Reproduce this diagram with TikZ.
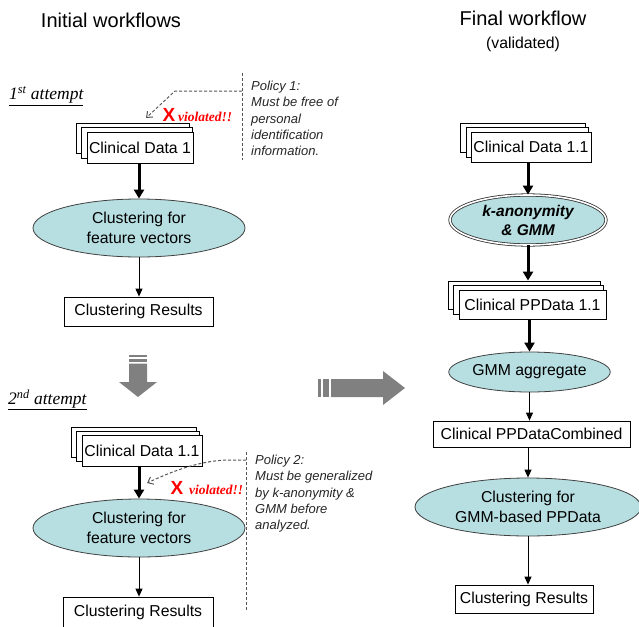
\documentclass[tikz,border=0pt]{standalone}
\usepackage{fontspec}
\setmainfont{Liberation Sans}
\newfontfamily\tnr{Liberation Serif}
\usetikzlibrary{shapes.geometric,arrows.meta}
\definecolor{tealfill}{RGB}{183,222,225}
\definecolor{arrgray}{RGB}{128,128,128}
\definecolor{dashgray}{RGB}{85,85,85}
\begin{document}
\begin{tikzpicture}[x=1pt,y=-1pt,
  box/.style={draw=black, line width=0.8pt, fill=white, inner sep=0pt, font=\fontsize{15.8}{19}\selectfont},
  backbox/.style={draw=black, line width=0.8pt, fill=white, inner sep=0pt},
  proc/.style={ellipse, draw=black!75, line width=0.8pt, fill=tealfill, inner sep=0pt, align=center, font=\fontsize{15.8}{19.5}\selectfont},
  thickarrow/.style={line width=3pt, -{Triangle[length=9pt,width=10pt]}},
  thinarrow/.style={line width=0.9pt, -{Triangle[length=8pt,width=7pt]}},
  policyline/.style={draw=dashgray, line width=1pt, dash pattern=on 3pt off 2pt},
  policyarrow/.style={draw=dashgray, line width=1pt, dash pattern=on 3pt off 2pt, -{Straight Barb[length=5pt,width=8pt]}},
  policytext/.style={anchor=north west, align=left, inner sep=0pt, text=black!85, font=\fontsize{13}{16.3}\selectfont\itshape},
  attempt/.style={anchor=west, inner sep=0pt, font=\tnr\itshape\fontsize{17.5}{20}\selectfont},
  xmark/.style={inner sep=0pt, text=red, font=\bfseries\fontsize{19}{20}\selectfont},
  viol/.style={anchor=west, inner sep=0pt, text=red, font=\tnr\bfseries\itshape\fontsize{13.5}{15}\selectfont},
  title/.style={inner sep=0pt, font=\fontsize{20}{24}\selectfont},
  arrowshape/.style={fill=arrgray}
]
\useasboundingbox (0,0) rectangle (639,626);

% titles
\node[title] (tl) at (111,20) {Initial workflows};
\node[title] (tr) at (523,18) {Final workflow};
\node[inner sep=0pt, font=\fontsize{15.8}{19}\selectfont] (trv) at (523,44) {(validated)};

% ---------- first attempt ----------
\node[attempt] (att1) at (9,96) {\underline{1\textsuperscript{st} attempt}};
\node[backbox, minimum width=113pt, minimum height=30pt] (cd1r) at (132.5,138) {};
\node[backbox, minimum width=111pt, minimum height=31pt] (cd1m) at (136.5,142.5) {};
\node[box, minimum width=106pt, minimum height=31pt] (cd1) at (140,147.5) {Clinical Data 1};

\draw[policyline] (242,73) coordinate (p1t) -- (242,160) coordinate (p1b);
\node[policytext] (pol1) at (251,81) {Policy 1:\\Must be free of\\personal\\identification\\information.};
\coordinate (p1s) at (242,91);
\coordinate (p1e) at (146,118);
\draw[policyarrow] (p1s) -- (175,91) -- (p1e);
\node[xmark] (x1) at (169,115) {X};
\node[viol] (v1) at (178,117) {violated!!};

\node[proc, minimum width=212pt, minimum height=58pt] (ell1) at (139,228) {Clustering for\\feature vectors};
\node[box, minimum width=149pt, minimum height=29pt] (res1) at (138.5,311.5) {Clustering Results};

\draw[thickarrow] (cd1.south -| ell1.north) -- (ell1.north);
\draw[thinarrow] (ell1.south) -- (ell1.south |- res1.north);

% gray down arrow
\fill[arrowshape] (129,355) rectangle (147,357);
\fill[arrowshape] (129,358.5) rectangle (147,362);
\fill[arrowshape] (129,363.5) -- (147,363.5) -- (147,382) -- (157,382) -- (138,397) -- (119,382) -- (129,382) -- cycle;

% ---------- second attempt ----------
\node[attempt] (att2) at (8,400) {\underline{2\textsuperscript{nd} attempt}};
\node[backbox, minimum width=125pt, minimum height=30pt] (cd2r) at (133.5,442) {};
\node[backbox, minimum width=123pt, minimum height=30pt] (cd2m) at (137.5,446) {};
\node[box, minimum width=120pt, minimum height=31pt] (cd2) at (142,450.5) {Clinical Data 1.1};

\node[proc, minimum width=212pt, minimum height=58pt] (ell2) at (139,528) {Clustering for\\feature vectors};
\node[box, minimum width=150pt, minimum height=30pt] (res2) at (138,612) {Clustering Results};

\draw[thickarrow] (cd2.south -| ell2.north) -- (ell2.north);
\draw[thinarrow] (ell2.south) -- (ell2.south |- res2.north);

\draw[policyline] (246,452) coordinate (p2t) -- (246,610) coordinate (p2b);
\node[policytext] (pol2) at (255,455) {Policy 2:\\Must be generalized\\by k-anonymity \&\\GMM before\\analyzed.};
\coordinate (p2s) at (246,460);
\coordinate (p2e) at (147,483);
\draw[policyarrow] (p2s) -- (227,460) .. controls (200,461) and (175,470) .. (p2e);
\node[xmark] (x2) at (177,488) {X};
\node[viol] (v2) at (189,490) {violated!!};

% gray right arrow
\fill[arrowshape] (318,379) rectangle (321,397);
\fill[arrowshape] (323,379) rectangle (329,397);
\fill[arrowshape] (331,379) -- (383,379) -- (383,371) -- (405,388) -- (383,405) -- (383,397) -- (331,397) -- cycle;

% ---------- final workflow ----------
\node[backbox, minimum width=125pt, minimum height=29pt] (cd3r) at (522.5,137.5) {};
\node[backbox, minimum width=122pt, minimum height=30pt] (cd3m) at (527,142) {};
\node[box, minimum width=120pt, minimum height=30pt] (cd3) at (531,147) {Clinical Data 1.1};

\node[proc, double=white, double distance=1.6pt, draw=black!80, line width=0.8pt, minimum width=156pt, minimum height=50pt, font=\bfseries\itshape\fontsize{15.5}{19}\selectfont] (kg) at (528,220) {k-anonymity\\\& GMM};

\node[backbox, minimum width=152pt, minimum height=28pt] (ppdr) at (524,295) {};
\node[backbox, minimum width=150pt, minimum height=29pt] (ppdm) at (528,299.5) {};
\node[box, minimum width=147pt, minimum height=29pt] (ppd) at (532.5,304.5) {Clinical PPData 1.1};

\node[proc, minimum width=146pt, minimum height=40pt] (agg) at (529.5,372) {GMM aggregate};
\node[box, minimum width=197pt, minimum height=26pt] (comb) at (531.5,434) {Clinical PPDataCombined};
\node[proc, minimum width=226pt, minimum height=58pt] (ell3) at (528,507) {Clustering for\\GMM-based PPData};
\node[box, minimum width=138pt, minimum height=28pt] (res3) at (524,599) {Clustering Results};

\draw[thickarrow] (kg.north |- cd3.south) -- (kg.north);
\draw[thickarrow] (kg.south) -- (kg.south |- ppdr.north);
\draw[thickarrow] (agg.north |- ppd.south) -- (agg.north);
\draw[thinarrow] (agg.south) -- (agg.south |- comb.north);
\draw[thinarrow] (comb.south -| ell3.north) -- (ell3.north);
\draw[thinarrow] (ell3.south) -- (ell3.south |- res3.north);
\end{tikzpicture}
\end{document}
